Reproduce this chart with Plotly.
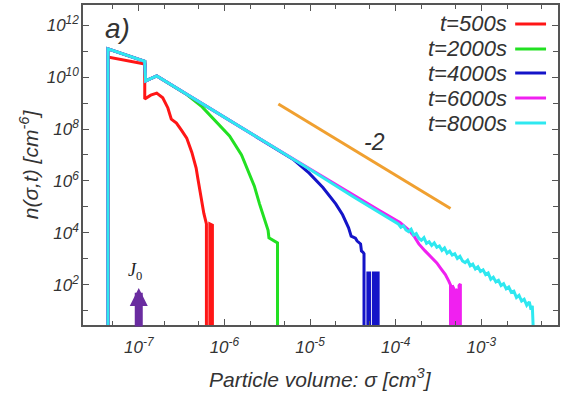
import numpy as np
import plotly.graph_objects as go

# Size distributions n(sigma, t): log10 of particle volume [cm^3] and log10 of n [cm^-6]
red_log_sigma = [-7.36, -7.36, -6.93, -6.93, -6.86, -6.79, -6.72, -6.66, -6.62, -6.56, -6.50, -6.44,
                 -6.38, -6.33, -6.31, -6.27, -6.24, -6.21, -6.21, -6.17, -6.17, -6.14, -6.14]
red_log_n = [0.0, 10.77, 10.50, 9.15, 9.30, 9.38, 9.20, 8.81, 8.38, 8.23, 7.95, 7.65,
             7.10, 6.50, 6.10, 5.30, 4.75, 4.35, 0.0, 0.0, 4.35, 4.30, 0.0]

green_log_sigma = [-7.36, -7.36, -6.93, -6.92, -6.79, -6.60, -6.45, -6.26, -6.10, -5.94, -5.80, -5.71,
                   -5.65, -5.59, -5.55, -5.51, -5.49, -5.48, -5.44, -5.40, -5.38, -5.38]
green_log_n = [0.0, 11.08, 10.60, 9.85, 10.04, 9.66, 9.35, 8.85, 8.30, 7.73, 7.00, 6.30,
               5.80, 5.12, 4.70, 4.35, 4.10, 3.81, 3.72, 3.65, 3.62, 0.0]

blue_log_sigma = [-7.36, -7.36, -6.93, -6.92, -6.79, -6.50, -6.00, -5.50, -5.20, -5.01, -4.85, -4.70,
                  -4.62, -4.55, -4.52, -4.47, -4.45, -4.41, -4.40, -4.38, -4.37, -4.37,
                  -4.325, -4.325, -4.305, -4.305, -4.26, -4.26, -4.24, -4.24, -4.22, -4.22,
                  -4.205, -4.205]
blue_log_n = [0.0, 11.08, 10.60, 9.85, 10.04, 9.45, 8.45, 7.45, 6.84, 6.30, 5.75, 5.12,
              4.70, 4.20, 3.88, 3.80, 3.69, 3.58, 3.31, 3.25, 3.20, 0.0,
              0.0, 2.46, 2.46, 0.0, 0.0, 2.46, 2.46, 0.0, 0.0, 2.46,
              2.46, 0.0]

magenta_log_sigma = [-7.36, -7.36, -6.93, -6.92, -6.79, -6.50, -6.00, -5.50, -5.00, -4.55, -4.20,
                     -3.95, -3.85, -3.78, -3.73, -3.66, -3.58, -3.52, -3.47, -3.42, -3.38,
                     -3.36, -3.36, -3.34, -3.34, -3.32, -3.32, -3.30, -3.30, -3.28, -3.28,
                     -3.26, -3.26, -3.245, -3.245]
magenta_log_n = [0.0, 11.08, 10.60, 9.85, 10.04, 9.45, 8.45, 7.45, 6.46, 5.56, 4.88,
                 4.40, 4.12, 3.85, 3.58, 3.32, 3.04, 2.85, 2.62, 2.40, 2.15,
                 2.00, 0.0, 0.0, 1.98, 1.85, 0.0, 0.0, 1.78, 1.82, 0.0,
                 0.0, 1.98, 2.04, 0.0]

cyan_log_sigma = [-7.36, -7.36, -6.93, -6.92, -6.79, -6.50, -6.00, -5.50, -5.00, -4.50, -3.97,
                  -3.94, -3.91, -3.88, -3.85, -3.82, -3.79, -3.76, -3.73, -3.70, -3.67, -3.64,
                  -3.61, -3.58, -3.55, -3.52, -3.49, -3.46, -3.43, -3.40, -3.37, -3.34, -3.31,
                  -3.28, -3.25, -3.22, -3.19, -3.16, -3.13, -3.10, -3.07, -3.04, -3.01, -2.98,
                  -2.95, -2.92, -2.89, -2.86, -2.83, -2.80, -2.77, -2.74, -2.71, -2.68, -2.65,
                  -2.62, -2.59, -2.56, -2.53, -2.50, -2.47, -2.44, -2.42, -2.405, -2.39]
cyan_log_n = [0.0, 11.08, 10.60, 9.85, 10.04, 9.45, 8.45, 7.45, 6.44, 5.40, 4.35,
              4.22, 4.28, 4.12, 4.05, 4.14, 3.92, 3.98, 3.80, 3.72, 3.82, 3.60,
              3.66, 3.52, 3.62, 3.45, 3.50, 3.33, 3.42, 3.22, 3.30, 3.15, 3.20,
              3.02, 3.10, 2.92, 2.86, 2.95, 2.74, 2.80, 2.62, 2.70, 2.52, 2.58,
              2.40, 2.46, 2.22, 2.30, 2.12, 2.18, 1.98, 2.05, 1.85, 1.92, 1.72,
              1.76, 1.52, 1.60, 1.38, 1.45, 1.22, 1.35, 1.05, 1.20, 0.0]

series_names = ["t=500s", "t=2000s", "t=4000s", "t=6000s", "t=8000s"]
series_colors = ["#ff1616", "#22e022", "#1414c8", "#f020f0", "#2ee8f0"]
series_sigma = [red_log_sigma, green_log_sigma, blue_log_sigma, magenta_log_sigma, cyan_log_sigma]
series_n = [red_log_n, green_log_n, blue_log_n, magenta_log_n, cyan_log_n]

# Power-law guide with slope -2
guide_slope = -2
guide_log_sigma = [-5.37, -3.36]
guide_log_n0 = 8.96
guide_log_n = [guide_log_n0 + guide_slope * (s - guide_log_sigma[0]) for s in guide_log_sigma]

# Nucleation source position
source_log_sigma = -7.0
source_log_n_tip = 1.88

fig = go.Figure()
for name, ls, ln, color in zip(series_names, series_sigma, series_n, series_colors):
    fig.add_trace(go.Scatter(
        x=10 ** np.array(ls), y=10 ** np.array(ln), mode="lines", name=name,
        line=dict(color=color, width=3), showlegend=False, hoverinfo="skip"))

fig.add_trace(go.Scatter(
    x=10 ** np.array(guide_log_sigma), y=10 ** np.array(guide_log_n), mode="lines",
    line=dict(color="#f0a030", width=3), showlegend=False, hoverinfo="skip"))

# Plot-area geometry (pixels) used to place the text annotations
W, H = 562, 396
L, R, T, B = 83, 560, 5, 325


def px(x):
    return (x - L) / (R - L)


def py(y):
    return (B - y) / (B - T)


font_family = "Liberation Sans, Arial, sans-serif"
text_color = "#333333"

x_major, x_labels, x_minor = [], [], []
for e in range(-8, -1):
    for c in (1, 2, 5):
        v = c * 10.0 ** e
        if -7.65 <= np.log10(v) <= -2.11:
            if c == 1:
                x_major.append(v)
                x_labels.append(f"10<sup>{e}</sup>")
            else:
                x_minor.append(v)

y_major = [10.0 ** k for k in range(2, 13, 2)]
y_labels = [f"10<sup>{k}</sup>" for k in range(2, 13, 2)]
y_minor = [10.0 ** k for k in range(1, 13, 2)]

axis_common = dict(
    showgrid=False, zeroline=False, showline=True, linecolor="#555555", linewidth=1.5,
    mirror="ticks", ticks="inside", ticklen=6, tickwidth=1.2, tickcolor="#555555",
    tickfont=dict(family=font_family, size=17, color=text_color, style="italic"),
)

fig.update_layout(
    width=W, height=H,
    margin=dict(l=L, r=W - R, t=T, b=H - B),
    paper_bgcolor="white", plot_bgcolor="white",
    xaxis=dict(type="log", range=[-7.651, -2.105], tickmode="array",
               tickvals=x_major, ticktext=x_labels, ticklabelstandoff=6,
               minor=dict(tickmode="array", tickvals=x_minor, ticks="inside", ticklen=4,
                          tickcolor="#555555", showgrid=False),
               **axis_common),
    yaxis=dict(type="log", range=[0.46, 12.77], tickmode="array",
               tickvals=y_major, ticktext=y_labels, ticklabelstandoff=-1,
               minor=dict(tickmode="array", tickvals=y_minor, ticks="inside", ticklen=5,
                          tickcolor="#555555", showgrid=False),
               **axis_common),
)

centered = dict(xref="paper", yref="paper", xanchor="center", yanchor="middle", showarrow=False)
annotations = [
    dict(text="Particle volume: σ [cm<sup>3</sup>]", x=px(322), y=py(378), **centered,
         font=dict(family=font_family, size=21, color=text_color, style="italic")),
    dict(text="n(σ,t) [cm<sup>-6</sup>]", x=px(29), y=py(164), textangle=-90, **centered,
         font=dict(family=font_family, size=21, color=text_color, style="italic")),
    dict(text="a)", x=px(118), y=py(28), **centered,
         font=dict(family=font_family, size=28, color=text_color, style="italic")),
    dict(text="-2", x=px(376), y=py(142), **centered,
         font=dict(family=font_family, size=23, color=text_color, style="italic")),
    dict(text="<i>J</i><sub>0</sub>", x=px(135), y=py(271), **centered,
         font=dict(family="Liberation Serif, DejaVu Serif, serif", size=18, color="#222222")),
    dict(text="", x=source_log_sigma, y=source_log_n_tip, xref="x", yref="y",
         showarrow=True, ax=0, ay=40, arrowhead=2, arrowsize=0.45, arrowwidth=8,
         arrowcolor="#6a2ca0", standoff=0),
]

# Legend: label text followed by a line sample
legend_y = [24, 49, 73, 98, 123]
shapes = []
for name, color, yc in zip(series_names, series_colors, legend_y):
    annotations.append(dict(
        text=name, x=px(511), y=py(yc), xref="paper", yref="paper", xanchor="right",
        yanchor="middle", showarrow=False,
        font=dict(family=font_family, size=22, color=text_color, style="italic")))
    shapes.append(dict(type="line", xref="paper", yref="paper", x0=px(517), x1=px(548),
                       y0=py(yc), y1=py(yc), line=dict(color=color, width=3)))

fig.update_layout(annotations=annotations, shapes=shapes)

fig.write_html("out.html")
